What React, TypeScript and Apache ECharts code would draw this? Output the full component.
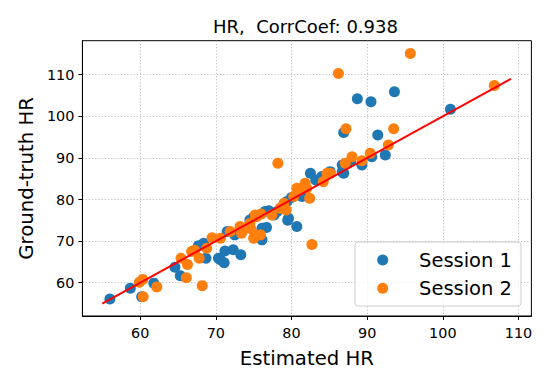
import React, { useEffect, useRef } from "react";
import * as echarts from "echarts";

const titleText = "HR,  CorrCoef: 0.938";
const xTicks = [60, 70, 80, 90, 100, 110];
const yTicks = [60, 70, 80, 90, 100, 110];
const fitLine = [[55, 55], [109, 109]];

const session1 = [
  [56.0, 56.1], [58.7, 58.65], [60.2, 56.6], [61.8, 59.9], [64.6, 63.7], [65.3, 61.7],
  [67.7, 68.9], [68.4, 69.5], [68.7, 65.9], [70.35, 65.9], [70.6, 65.5], [71.1, 64.8],
  [71.2, 67.6], [72.3, 67.9], [73.3, 66.7], [71.5, 72.3], [72.5, 71.5], [74.5, 75.1],
  [75.0, 75.8], [75.3, 76.0], [76.1, 70.3], [76.1, 73.1], [76.7, 73.3], [76.5, 77.1],
  [77.0, 77.3], [78.1, 77.1], [77.7, 76.3], [79.4, 79.5], [79.6, 75.5], [79.5, 75.0],
  [80.7, 73.5], [80.0, 80.5], [81.4, 80.7], [82.5, 86.3], [83.2, 84.7], [84.0, 85.5],
  [85.1, 86.7], [86.7, 88.3], [86.7, 86.7], [86.9, 86.3], [86.9, 96.1], [87.8, 89.1],
  [88.7, 104.2], [89.3, 88.3], [90.5, 103.5], [90.6, 90.3], [91.4, 95.5], [92.4, 90.7],
  [93.6, 105.9], [101.0, 101.7],
];

const session2 = [
  [59.9, 60.1], [60.35, 60.8], [60.4, 56.6], [62.2, 59.0], [65.4, 65.9], [66.1, 61.2],
  [66.25, 64.4], [66.8, 67.5], [67.2, 67.8], [67.8, 65.9], [68.2, 59.3], [68.8, 68.3],
  [69.5, 70.8], [70.6, 70.7], [71.9, 72.3], [73.2, 73.5], [73.4, 71.9], [74.5, 74.3],
  [74.6, 73.0], [75.0, 70.7], [75.2, 71.5], [75.9, 71.5], [75.2, 76.3], [75.4, 75.9],
  [76.0, 76.5], [77.4, 76.3], [78.2, 88.7], [78.5, 77.9], [79.0, 79.1], [79.3, 77.5],
  [80.3, 80.7], [80.7, 82.7], [81.1, 82.3], [81.8, 83.9], [82.0, 82.7], [82.4, 80.3],
  [82.7, 69.2], [84.2, 84.3], [84.7, 86.3], [85.1, 86.3], [86.2, 110.3], [87.1, 88.7],
  [87.2, 97.0], [88.0, 90.3], [89.3, 89.3], [90.4, 91.1], [92.8, 93.1], [93.5, 97.0],
  [95.7, 115.1], [106.8, 107.4],
];

const seriesNames = ["Session 1", "Session 2"];
const colors = ["#1f77b4", "#ff7f0e"];
const FONT = "DejaVu Sans";

export default function App() {
  const ref = useRef<HTMLDivElement>(null);
  useEffect(() => {
    if (!ref.current) return;
    const chart = echarts.init(ref.current, null, { renderer: "svg" });
    const axisCommon = {
      type: "value",
      axisLine: { show: true, lineStyle: { color: "#000", width: 1 } },
      axisTick: { show: true, inside: false, length: 4, lineStyle: { color: "#000", width: 1 } },
      splitLine: { show: true, lineStyle: { color: "#b0b0b0", type: [1.2, 2], width: 0.8 } },
      nameTextStyle: { fontFamily: FONT, fontSize: 19.7, color: "#000" },
    };
    chart.setOption({
      animation: false,
      backgroundColor: "#fff",
      textStyle: { fontFamily: FONT },
      title: {
        text: titleText,
        left: 208,
        top: 12,
        textStyle: { fontFamily: FONT, fontSize: 18, fontWeight: "normal", color: "#000" },
      },
      grid: {
        left: 82.4,
        right: 18.6,
        top: 40.7,
        bottom: 69,
        show: true,
        borderColor: "#000",
        borderWidth: 1,
        containLabel: false,
      },
      xAxis: {
        ...axisCommon,
        min: 52.37,
        max: 111.7,
        name: "Estimated HR",
        nameLocation: "middle",
        nameGap: 32,
        axisTick: { ...axisCommon.axisTick, customValues: xTicks },
        axisLabel: {
          customValues: xTicks,
          fontFamily: FONT,
          fontSize: 14.4,
          color: "#000",
          margin: 10,
        },
      },
      yAxis: {
        ...axisCommon,
        min: 52.0,
        max: 118.17,
        name: "Ground-truth HR",
        nameLocation: "middle",
        nameGap: 46,
        axisTick: { ...axisCommon.axisTick, customValues: yTicks },
        axisLabel: {
          customValues: yTicks,
          fontFamily: FONT,
          fontSize: 14.4,
          color: "#000",
          margin: 8,
        },
      },
      series: [
        {
          name: seriesNames[0],
          type: "scatter",
          data: session1,
          symbolSize: 11,
          itemStyle: { color: colors[0], opacity: 1 },
          z: 2,
        },
        {
          name: seriesNames[1],
          type: "scatter",
          data: session2,
          symbolSize: 11,
          itemStyle: { color: colors[1], opacity: 1 },
          z: 3,
        },
        {
          type: "line",
          data: fitLine,
          showSymbol: false,
          symbol: "none",
          lineStyle: { color: "#ff0000", width: 2 },
          z: 4,
        },
      ],
      graphic: [
        {
          type: "rect",
          shape: { x: 355, y: 242, width: 166, height: 64, r: 3 },
          style: { fill: "rgba(255,255,255,0.8)", stroke: "#cccccc", lineWidth: 1 },
          z: 100,
        },
        {
          type: "circle",
          shape: { cx: 382.7, cy: 260, r: 5.5 },
          style: { fill: colors[0] },
          z: 101,
        },
        {
          type: "circle",
          shape: { cx: 382.7, cy: 288.3, r: 5.5 },
          style: { fill: colors[1] },
          z: 101,
        },
        {
          type: "text",
          x: 419,
          y: 260,
          style: { text: seriesNames[0], fontFamily: FONT, fontSize: 19.5, fill: "#000", textVerticalAlign: "middle" },
          z: 101,
        },
        {
          type: "text",
          x: 419,
          y: 288.3,
          style: { text: seriesNames[1], fontFamily: FONT, fontSize: 19.5, fill: "#000", textVerticalAlign: "middle" },
          z: 101,
        },
      ],
    });
    return () => chart.dispose();
  }, []);
  return (
    <div
      ref={ref}
      style={{ position: "absolute", left: 0, top: 0, width: 550, height: 385 }}
    />
  );
}
